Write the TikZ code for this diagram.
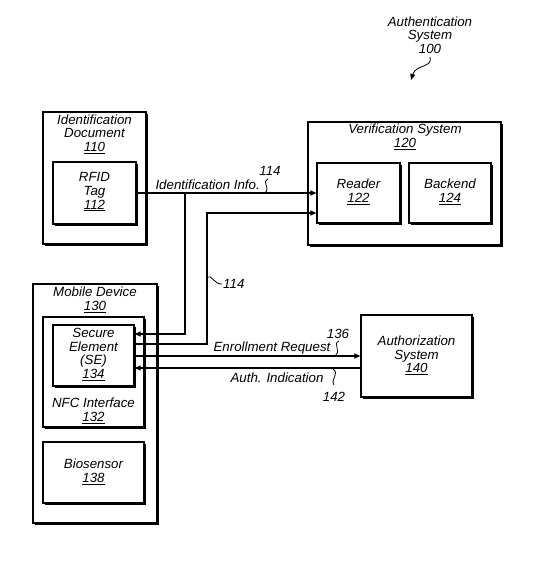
\documentclass[tikz,border=0pt]{standalone}
\usepackage{fontspec}
\setmainfont{Liberation Sans}
\usetikzlibrary{shadows,arrows.meta}
\tikzset{
  box/.style={draw=black, line width=1.2pt, fill=white, rectangle, inner sep=0pt,
    drop shadow={shadow xshift=1.7pt, shadow yshift=-1.7pt, fill=black, opacity=1}},
  txt/.style={align=center, inner sep=0pt, font=\fontsize{13.3}{13.7}\selectfont\itshape},
  conn/.style={line width=1.1pt},
  arr/.style={conn, -{Triangle[length=6pt,width=5pt]}},
  squig/.style={line width=0.8pt}
}
\begin{document}
\begin{tikzpicture}[x=1pt,y=-1pt]
\useasboundingbox (0,0) rectangle (550,561);
% containers
\node[box, minimum width=103pt, minimum height=132pt] (iddoc) at (94.5,178) {};
\node[box, minimum width=193pt, minimum height=123pt] (ver) at (404.5,183.5) {};
\node[box, minimum width=124pt, minimum height=239pt] (mob) at (95,403.5) {};
\node[box, minimum width=101pt, minimum height=110pt] (nfc) at (93.5,372) {};
% leaves
\node[box, minimum width=83pt, minimum height=62pt] (rfid) at (94.5,193) {};
\node[box, minimum width=83pt, minimum height=60pt] (reader) at (358.5,193) {};
\node[box, minimum width=82pt, minimum height=60pt] (backend) at (450,193) {};
\node[box, minimum width=81pt, minimum height=61pt] (se) at (93.5,355.5) {};
\node[box, minimum width=101pt, minimum height=61pt] (bio) at (93.5,472.5) {};
\node[box, minimum width=111pt, minimum height=82pt] (auth) at (416.5,356) {};
% texts
\node[txt] (authsys) at (430,35) {Authentication\\System\\100};
\node[txt] (iddoct) at (94.5,134) {Identification\\Document\\\underline{110}};
\node[txt] (rfidt) at (94.5,192) {RFID\\Tag\\\underline{112}};
\node[txt] (vert) at (405,137) {Verification System\\\underline{120}};
\node[txt] (readert) at (358.5,192) {Reader\\\underline{122}};
\node[txt] (backendt) at (450,192) {Backend\\\underline{124}};
\node[txt] (mobt) at (95,300) {Mobile Device\\\underline{130}};
\node[txt] (set) at (93.5,354.5) {Secure\\Element\\(SE)\\\underline{134}};
\node[txt] (nfct) at (93.5,411) {NFC Interface\\\underline{132}};
\node[txt] (biot) at (93.5,472) {Biosensor\\\underline{138}};
\node[txt] (autht) at (416.5,355.5) {Authorization\\System\\\underline{140}};
% connector labels
\node[txt, anchor=east] (idinfo) at (260,185) {Identification Info.};
\node[txt] (l114a) at (270,171) {114};
\node[txt, anchor=west] (l114b) at (223,284) {114};
\node[txt] (enr) at (272,348) {Enrollment Request};
\node[txt] (l136) at (338,334) {136};
\node[txt] (authind) at (277,378) {Auth. Indication};
\node[txt] (l142) at (334,397) {142};
% coordinates
\coordinate (b1) at (185,193);
\coordinate (b2) at (207,213);
% connectors
\draw[arr] (rfid.east) -- (reader.west |- rfid.east);
\draw[arr] (b1) |- (se.east |- 0,334);
\draw[arr] (se.east |- 0,344) -| (b2) -- (reader.west |- b2);
\draw[arr] (se.east |- 0,356) -- (auth.west |- 0,356);
\draw[arr] (auth.west |- 0,368) -- (se.east |- 0,368);
% squiggles
\draw[squig, -{Triangle[length=6pt,width=5pt]}] (430,57) .. controls (433,68) and (416,64) .. (411,80);
\draw[squig] (268,179) .. controls (261,183) and (271,187) .. (265,193);
\draw[squig] (207,277) .. controls (211,274) and (215,285) .. (222,284);
\draw[squig] (339,341) .. controls (332,344) and (342,350) .. (335,356);
\draw[squig] (333,369) .. controls (340,374) and (330,379) .. (334,385);
\end{tikzpicture}
\end{document}
